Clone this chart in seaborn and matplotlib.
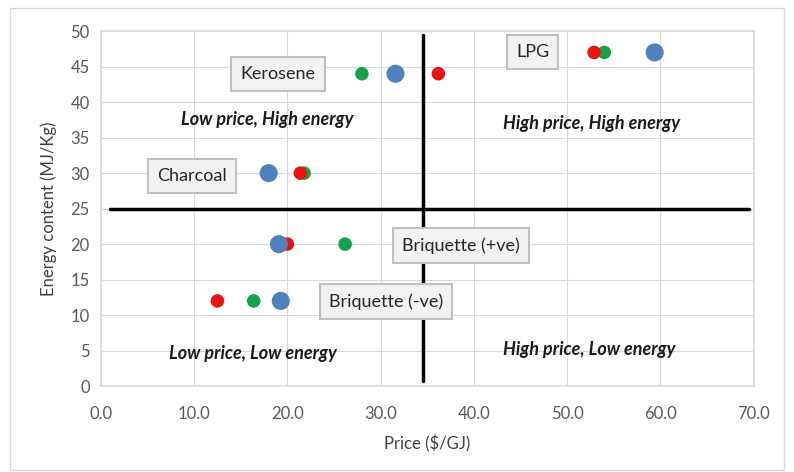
import pandas as pd
import matplotlib.pyplot as plt
import seaborn as sns
from matplotlib.patches import Rectangle

# fuel data
fuels = ['Kerosene', 'LPG', 'Charcoal', 'Briquette (+ve)', 'Briquette (-ve)']
energy = [44, 47, 30, 20, 12]
price_blue = [31.6, 59.4, 18.0, 19.1, 19.3]
price_red = [36.2, 52.9, 21.4, 20.0, 12.5]
price_green = [28.0, 54.0, 21.8, 26.2, 16.4]

label_x = [19.0, 46.3, 9.8, 38.6, 30.6]
label_y = [44.0, 47.0, 29.6, 19.8, 11.9]

quadrants = ['Low price, High energy', 'High price, High energy',
             'Low price, Low energy', 'High price, Low energy']
quad_x = [17.8, 52.6, 16.3, 52.4]
quad_y = [37.5, 37.0, 4.6, 5.1]

rows = []
for name, col in [('blue', price_blue), ('red', price_red), ('green', price_green)]:
    for f, p, e in zip(fuels, col, energy):
        rows.append({'fuel': f, 'price': p, 'energy': e, 'series': name})
df = pd.DataFrame(rows)

sns.set_theme(style='white')
plt.rcParams['font.family'] = ['Lato', 'DejaVu Sans']

fig = plt.figure(figsize=(7.94, 4.72), dpi=100)
fig.patches.append(Rectangle((0.013, 0.004), 0.974, 0.98, transform=fig.transFigure,
                             fill=False, edgecolor='#d9d9d9', linewidth=1))
ax = fig.add_axes([0.127, 0.182, 0.822, 0.752])

palette = {'blue': '#4f81bd', 'red': '#ee1111', 'green': '#13a34a'}
sizes = {'blue': 170, 'red': 95, 'green': 95}

# draw green first, then red, then blue on top of overlaps
for s in ['green', 'red', 'blue']:
    sub = df[df['series'] == s]
    sns.scatterplot(data=sub, x='price', y='energy', color=palette[s], s=sizes[s],
                    edgecolor='none', ax=ax, legend=False, zorder=4)

ax.set_xlim(0, 70)
ax.set_ylim(0, 50)
ax.set_xticks(range(0, 71, 10))
ax.set_xticklabels([f'{v:.1f}' for v in range(0, 71, 10)])
ax.set_yticks(range(0, 51, 5))
ax.grid(True, color='#d9d9d9', linewidth=0.8)
ax.set_axisbelow(True)
for sp in ax.spines.values():
    sp.set_color('#d9d9d9')
ax.tick_params(colors='#595959', labelsize=12, length=0)
ax.tick_params(axis='x', pad=14)
ax.tick_params(axis='y', pad=8)

ax.set_xlabel('Price ($/GJ)', fontsize=12, color='#404040', labelpad=10)
ax.set_ylabel('Energy content (MJ/Kg)', fontsize=12, color='#404040', labelpad=10)

# quadrant dividers
ax.plot([1.0, 69.5], [25, 25], color='black', linewidth=2.5, zorder=3)
ax.plot([34.5, 34.5], [0.7, 49.5], color='black', linewidth=2.5, zorder=3)

for name, x, y in zip(fuels, label_x, label_y):
    ax.text(x, y, name, ha='center', va='center', fontsize=13, color='#262626', zorder=5,
            bbox=dict(boxstyle='square,pad=0.5', facecolor='#f2f2f2', edgecolor='#bfbfbf',
                      linewidth=1.5))

for t, x, y in zip(quadrants, quad_x, quad_y):
    ax.text(x, y, t, ha='center', va='center', fontsize=13, fontweight='bold',
            fontstyle='italic', color='#1a1a1a', zorder=5)

plt.savefig('out.png', dpi=100)
